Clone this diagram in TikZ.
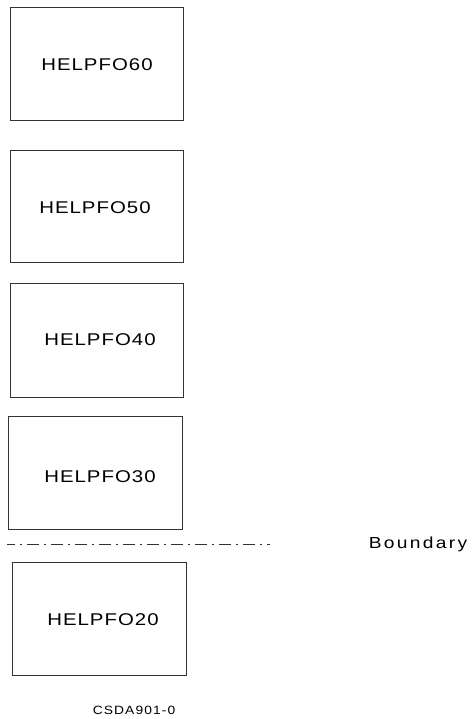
\documentclass[tikz,border=0pt]{standalone}
\usepackage{graphicx}
\usepackage{fontspec}
\setmainfont{Liberation Sans}
\newcommand{\widetext}[2]{\scalebox{#1}[1]{#2}}
\begin{document}
\begin{tikzpicture}[x=1pt,y=-1pt,
  pbox/.style={draw=black!80,line width=0.9pt},
  lbl/.style={font=\fontsize{17}{19}\selectfont\addfontfeature{LetterSpace=5}},
  bnd/.style={font=\fontsize{16}{18}\selectfont\addfontfeature{LetterSpace=12}},
  figid/.style={font=\fontsize{12}{14}\selectfont\addfontfeature{LetterSpace=8}},
  dashdot/.style={draw=black!80,line width=0.9pt,dash pattern=on 12pt off 5pt on 2pt off 5pt,dash phase=4pt}]
\useasboundingbox (0,0) rectangle (472,719);
\draw[pbox] (10,7) rectangle (183,120);
\node[lbl] (t60) at (97,65) {\widetext{1.2}{HELPFO60}};
\draw[pbox] (10,150) rectangle (183,262);
\node[lbl] (t50) at (95,208) {\widetext{1.2}{HELPFO50}};
\draw[pbox] (10,283) rectangle (183,397);
\node[lbl] (t40) at (100,340) {\widetext{1.2}{HELPFO40}};
\draw[pbox] (8,416) rectangle (182,529);
\node[lbl] (t30) at (100,477) {\widetext{1.2}{HELPFO30}};
\coordinate (b1) at (7,544);
\coordinate (b2) at (270,544);
\draw[dashdot] (b1) -- (b2);
\node[bnd] (bl) at (418,544) {\widetext{1.2}{Boundary}};
\draw[pbox] (12,562) rectangle (186,675);
\node[lbl] (t20) at (103,620) {\widetext{1.2}{HELPFO20}};
\node[figid] (id) at (134,710) {\widetext{1.15}{CSDA901-0}};
\end{tikzpicture}
\end{document}
